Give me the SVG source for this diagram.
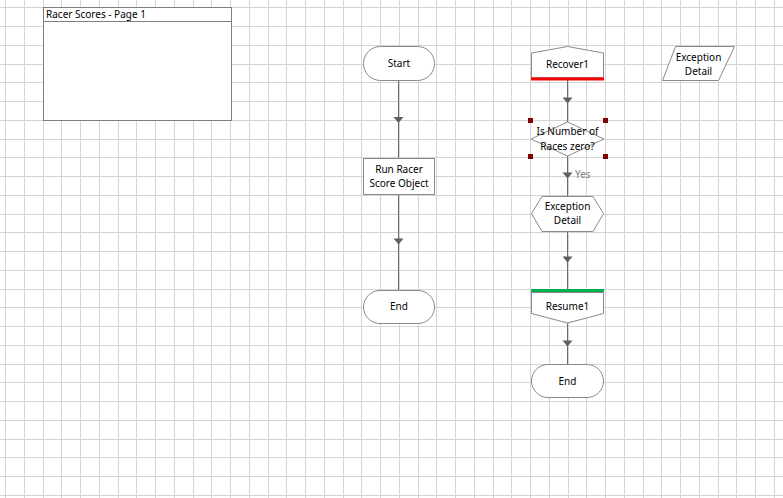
<svg xmlns="http://www.w3.org/2000/svg" width="783" height="498" viewBox="0 0 783 498">
<style>
.grid{stroke:#d4d4d4;stroke-width:1;fill:none}
.shape{fill:#ffffff;stroke:#8a8a8a;stroke-width:1}
.t{font-family:"Noto Sans","Liberation Sans",sans-serif;font-size:10px;fill:#000;text-anchor:middle}
.tl{font-family:"Noto Sans","Liberation Sans",sans-serif;font-size:10px;fill:#000}
.conn{stroke:#6b6b6b;stroke-width:1;fill:none}
.arrow{fill:#5f5f5f;stroke:none}
.handle{fill:#7f0000}
.lbl{font-family:"Noto Sans","Liberation Sans",sans-serif;font-size:10px;fill:#808080}
</style>
<rect x="0" y="0" width="783" height="498" fill="#ffffff"/>
<path class="grid" d="M5.5 0V498M24.5 0V498M43.5 0V498M61.5 0V498M80.5 0V498M99.5 0V498M118.5 0V498M136.5 0V498M155.5 0V498M174.5 0V498M193.5 0V498M211.5 0V498M230.5 0V498M249.5 0V498M268.5 0V498M286.5 0V498M305.5 0V498M324.5 0V498M343.5 0V498M361.5 0V498M380.5 0V498M399.5 0V498M418.5 0V498M436.5 0V498M455.5 0V498M474.5 0V498M493.5 0V498M511.5 0V498M530.5 0V498M549.5 0V498M568.5 0V498M586.5 0V498M605.5 0V498M624.5 0V498M643.5 0V498M661.5 0V498M680.5 0V498M699.5 0V498M718.5 0V498M736.5 0V498M755.5 0V498M774.5 0V498
M0 7.5H783M0 26.5H783M0 45.5H783M0 64.5H783M0 82.5H783M0 101.5H783M0 120.5H783M0 139.5H783M0 157.5H783M0 176.5H783M0 195.5H783M0 214.5H783M0 232.5H783M0 251.5H783M0 270.5H783M0 289.5H783M0 307.5H783M0 326.5H783M0 345.5H783M0 364.5H783M0 382.5H783M0 401.5H783M0 420.5H783M0 439.5H783M0 457.5H783M0 476.5H783M0 495.5H783"/>

<g id="page-box">
<rect x="43.5" y="7.5" width="188" height="113" fill="#ffffff" stroke="#7f7f7f"/>
<line x1="43.5" y1="21.5" x2="231.5" y2="21.5" stroke="#7f7f7f"/>
<text class="tl" x="46" y="18">Racer Scores - Page 1</text>
</g>

<g id="connectors">
<line class="conn" x1="398.5" y1="80.5" x2="398.5" y2="158.5"/>
<polygon class="arrow" points="393.5,117 403.5,117 398.5,123"/>
<line class="conn" x1="398.5" y1="194.5" x2="398.5" y2="290.5"/>
<polygon class="arrow" points="393.5,238.5 403.5,238.5 398.5,244.5"/>
<line class="conn" x1="567.5" y1="80" x2="567.5" y2="122"/>
<polygon class="arrow" points="562.5,97.5 572.5,97.5 567.5,103.5"/>
<line class="conn" x1="567.5" y1="156" x2="567.5" y2="196.5"/>
<polygon class="arrow" points="562.5,172.5 572.5,172.5 567.5,178.5"/>
<text class="lbl" x="575" y="178">Yes</text>
<line class="conn" x1="567.5" y1="231.5" x2="567.5" y2="289"/>
<polygon class="arrow" points="562.5,256.5 572.5,256.5 567.5,262.5"/>
<line class="conn" x1="567.5" y1="323" x2="567.5" y2="364.5"/>
<polygon class="arrow" points="562.5,340.5 572.5,340.5 567.5,346.5"/>
</g>

<g id="start">
<rect class="shape" x="363.5" y="46.5" width="71" height="34" rx="17" ry="17"/>
<text class="t" x="399" y="67">Start</text>
</g>

<g id="run-racer">
<rect class="shape" x="363.5" y="158.5" width="71" height="36"/>
<text class="t" x="399" y="173">Run Racer</text>
<text class="t" x="399" y="187">Score Object</text>
</g>

<g id="end1">
<rect class="shape" x="363.5" y="290.5" width="71" height="33" rx="16.5" ry="16.5"/>
<text class="t" x="399" y="310">End</text>
</g>

<g id="recover1">
<path class="shape" d="M531.5 53L567.5 46.5L603.5 53V77.5H531.5Z"/>
<rect x="531" y="77.5" width="73" height="3" fill="#ff0000"/>
<text class="t" x="567.5" y="67.5">Recover1</text>
</g>

<g id="decision">
<path class="shape" d="M567.5 122L604 139L567.5 156L531 139Z"/>
<text class="t" x="567.5" y="135">Is Number of</text>
<text class="t" x="567.5" y="150">Races zero?</text>
<rect class="handle" x="528" y="118" width="5" height="5"/>
<rect class="handle" x="603" y="118" width="5" height="5"/>
<rect class="handle" x="528" y="154" width="5" height="5"/>
<rect class="handle" x="603" y="154" width="5" height="5"/>
</g>

<g id="exception-detail">
<path class="shape" d="M531.5 213.5L542 196.5H593L603.5 213.5L593 231.5H542Z"/>
<text class="t" x="567.5" y="210">Exception</text>
<text class="t" x="567.5" y="224">Detail</text>
</g>

<g id="resume1">
<rect x="531" y="289" width="73" height="3" fill="#00b050"/>
<path class="shape" d="M531.5 292.5H603.5V313.5L567.5 323L531.5 313.5Z"/>
<text class="t" x="567.5" y="309.5">Resume1</text>
</g>

<g id="end2">
<rect class="shape" x="531.5" y="364.5" width="72" height="33" rx="16.5" ry="16.5"/>
<text class="t" x="567.5" y="385">End</text>
</g>

<g id="exception-detail-data">
<path class="shape" d="M675.5 46.5H734.5L718.5 80.5H662.5Z"/>
<text class="t" x="698.5" y="60.5">Exception</text>
<text class="t" x="698.5" y="74.5">Detail</text>
</g>
</svg>
